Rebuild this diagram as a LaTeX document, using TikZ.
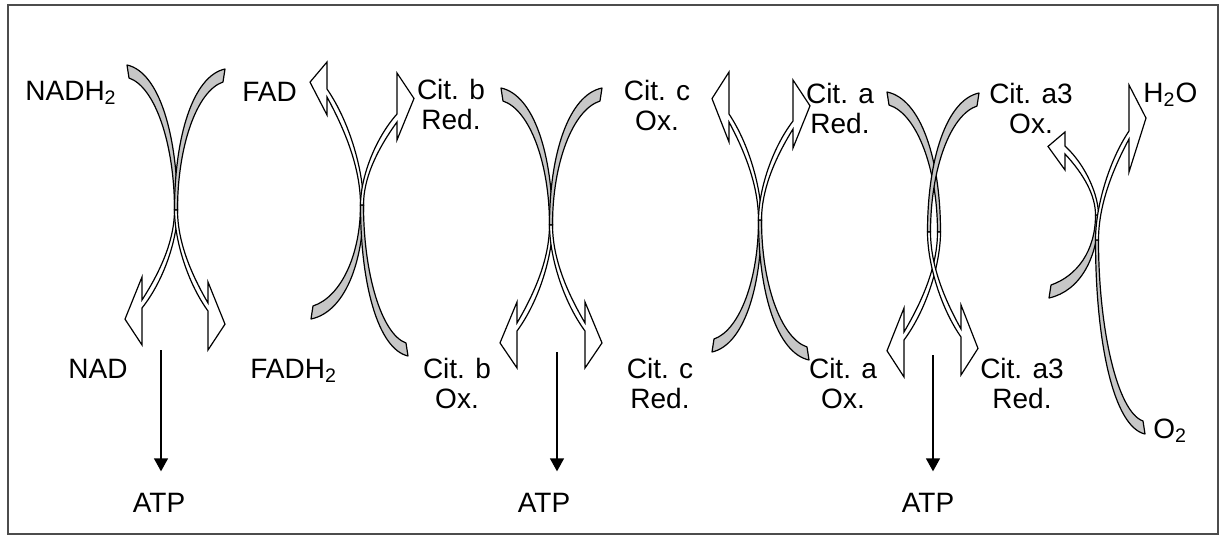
\documentclass[tikz,border=0pt]{standalone}
\usepackage{fontspec}
\setmainfont{Liberation Sans}
\usepackage{tikz}
\usetikzlibrary{arrows.meta}

\tikzset{
  tailband/.style={draw=black, fill=black!22, line width=0.6pt, line join=round},
  headband/.style={draw=black, fill=white, line width=0.6pt},
  lbl/.style={inner sep=0pt, align=center},
  atparrow/.style={-{Triangle[width=7pt,length=6.5pt]}, line width=0.7pt, shorten >=10.5pt},
  flipx/.style={xscale=-1},
  flipy/.style={yscale=-1},
}

% grey back half of a curved arrow: crossing -> tail end at (-#1,-#2)
\newcommand{\bandtail}[2]{%
  \filldraw[tailband] (1.5,0) .. controls (1.5,{-0.54*#2}) and ({-0.35*#1},{1-#2}) .. ({-#1-1},{-#2-6})
    -- ({1-#1},{7-#2}) .. controls ({-0.43*#1},{16-#2}) and (-1.5,{-0.47*#2}) .. (-1.5,0) -- cycle;}
% white front half with the open head: base at x=-#1, shaft at y=#2, barbs #3 / #4
\newcommand{\bandhead}[4]{%
  \filldraw[headband] (-1.5,0) .. controls (-1.5,{0.3*#2}) and ({-0.4*#1},{0.62*#2}) .. (-#1,{#2-4})
    -- (-#1,{#2-#3}) -- ({-#1-17},{#2+(#4-#3)/2+0.12*(#3+#4)}) -- (-#1,{#2+#4}) -- (-#1,{#2+4})
    .. controls ({-0.34*#1},{0.7*#2+4}) and (1.5,{0.3*#2}) .. (1.5,0) -- cycle;}

\begin{document}
\begin{tikzpicture}[x=0.5pt, y=-0.5pt, font=\fontsize{14}{15}\selectfont]
  \useasboundingbox (0,0) rectangle (1226,536);
  \draw[line width=1pt, black!70] (8,5) rectangle (1218,534);

  % NADH2 -> NAD
  \begin{scope}[shift={(176,210)}] \bandtail{48}{139} \bandhead{34}{94}{27}{41} \end{scope}
  \begin{scope}[shift={(176,210)}, flipx] \bandtail{48}{135} \bandhead{32}{97}{25}{43} \end{scope}
  % FADH2 -> FAD, cit. b
  \begin{scope}[shift={(362,205)}, flipy] \bandtail{50}{108} \bandhead{35}{112}{22}{31} \end{scope}
  \begin{scope}[shift={(362,205)}, flipx, flipy] \bandtail{45}{145} \bandhead{35}{87}{22}{45} \end{scope}
  % cit. b -> cit. c
  \begin{scope}[shift={(551,225)}] \bandtail{49}{131} \bandhead{34}{102}{25}{41} \end{scope}
  \begin{scope}[shift={(551,225)}, flipx] \bandtail{50}{131} \bandhead{34}{102}{25}{41} \end{scope}
  % cit. c -> cit. a
  \begin{scope}[shift={(760,220)}, flipy] \bandtail{47}{126} \bandhead{31}{102}{24}{46} \end{scope}
  \begin{scope}[shift={(760,220)}, flipx, flipy] \bandtail{48}{134} \bandhead{33}{95}{23}{45} \end{scope}
  % cit. a -> cit. a3
  \begin{scope}[shift={(939,232)}] \bandtail{51}{134} \bandhead{35}{104}{28}{41} \end{scope}
  \begin{scope}[shift={(929,232)}, flipx] \bandtail{49}{133} \bandhead{32}{101}{28}{42} \end{scope}
  % cit. a3 -> O2
  \begin{scope}[shift={(1097,215)}, flipy] \bandtail{47}{77} \bandhead{32}{65}{20}{18} \end{scope}
  \begin{scope}[shift={(1097,240)}, flipx, flipy] \bandtail{47}{188} \bandhead{32}{105}{37}{50} \end{scope}

  \node[lbl, anchor=base west] (nadh) at (25,100) {NADH\textsubscript{2}};
  \node[lbl, anchor=base west] (fad) at (242,101) {FAD};
  \node[lbl, anchor=base west] (nad) at (68,378) {NAD};
  \node[lbl, anchor=base west] (fadh) at (250,378) {FADH\textsubscript{2}};
  \node[lbl, anchor=north] (cbred) at (451,79) {Cit. b\\Red.};
  \node[lbl, anchor=north] (ccox) at (657,80) {Cit. c\\Ox.};
  \node[lbl, anchor=north] (cared) at (840,83) {Cit. a\\Red.};
  \node[lbl, anchor=north] (caiiiox) at (1031,83) {Cit. a3\\Ox.};
  \node[lbl, anchor=base west] (water) at (1143,102) {H\textsubscript{2}O};
  \node[lbl, anchor=north] (cbox) at (457,358) {Cit. b\\Ox.};
  \node[lbl, anchor=north] (ccred) at (660,358) {Cit. c\\Red.};
  \node[lbl, anchor=north] (caox) at (843,358) {Cit. a\\Ox.};
  \node[lbl, anchor=north] (caiiired) at (1022,358) {Cit. a3\\Red.};
  \node[lbl, anchor=base west] (oxy) at (1153,438) {O\textsubscript{2}};

  \node[lbl, anchor=base] (atp1) at (159,512) {ATP};
  \node[lbl, anchor=base] (atp2) at (544,512) {ATP};
  \node[lbl, anchor=base] (atp3) at (928,512) {ATP};
  \coordinate (s1) at (161,350);
  \coordinate (s2) at (557,352);
  \coordinate (s3) at (933,355);
  \draw[atparrow] (s1) -- (s1 |- atp1.north);
  \draw[atparrow] (s2) -- (s2 |- atp2.north);
  \draw[atparrow] (s3) -- (s3 |- atp3.north);
\end{tikzpicture}
\end{document}
